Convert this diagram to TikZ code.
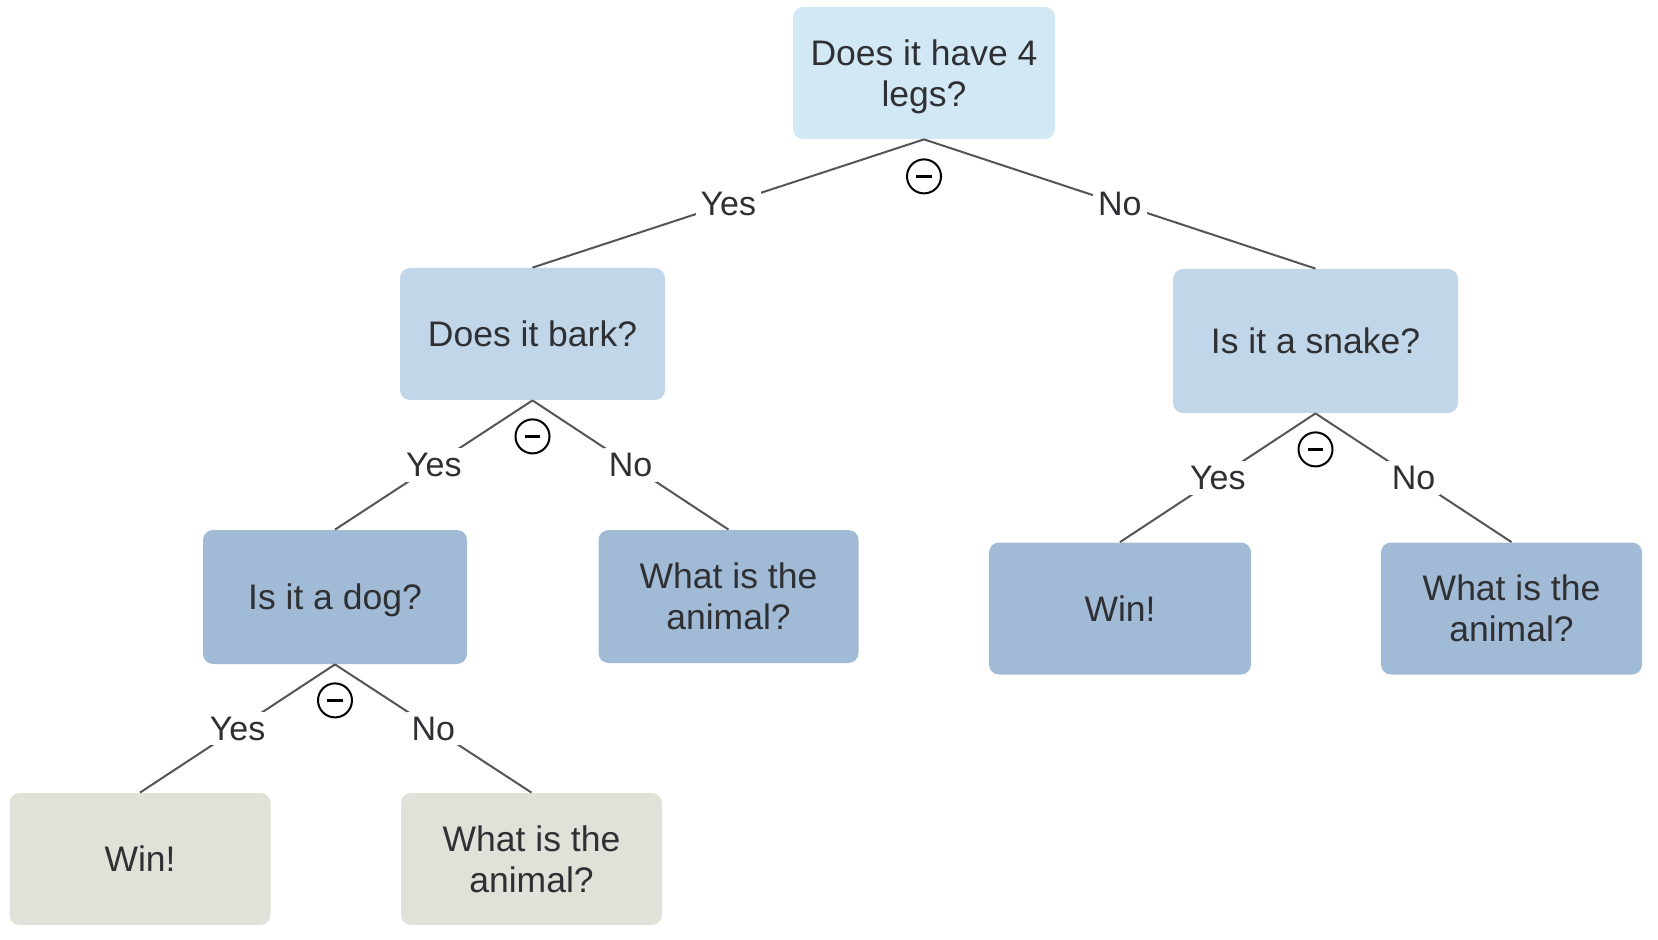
\documentclass[tikz,border=0pt]{standalone}
\usepackage{fontspec}
\setmainfont{Liberation Sans}
\usetikzlibrary{calc}
\definecolor{c0}{HTML}{D3E8F5}
\definecolor{c1}{HTML}{C2D6E9}
\definecolor{c2}{HTML}{A1BAD5}
\definecolor{c3}{HTML}{E0E2D9}
\definecolor{txt}{HTML}{2E3033}
\definecolor{ln}{HTML}{555555}
\newcommand{\nodepth}[1]{\raisebox{0pt}[\height][0pt]{#1}}
\tikzset{
  box/.style={rectangle, rounded corners=5pt, draw=none, align=center,
    text=txt, font=\fontsize{17.75}{20.5}\selectfont, inner sep=0pt,
    minimum width=131pt, minimum height=66pt},
  conn/.style={draw=ln, line width=1pt},
  lbl/.style={fill=white, text=txt, font=\fontsize{17}{20}\selectfont, inner sep=2.5pt},
  minus/.style={circle, draw=black, line width=1pt, fill=white, minimum size=17pt, inner sep=0pt,
    path picture={\draw[line width=1.2pt] ([xshift=-3.8pt]path picture bounding box.center) -- ([xshift=3.8pt]path picture bounding box.center);}}
}
\begin{document}
\begin{tikzpicture}[x=0.5pt,y=-0.5pt]
\useasboundingbox (0,0) rectangle (1658,940);
\node[box, fill=c0, minimum width=131pt, minimum height=66pt] (root) at (924,73) {Does it have 4\\\nodepth{legs?}};
\node[box, fill=c1, minimum width=132.5pt, minimum height=66pt] (bark) at (532.5,334) {Does it bark?};
\node[box, fill=c1, minimum width=142.5pt, minimum height=72pt] (snake) at (1315.5,341) {Is it a snake?};
\node[box, fill=c2, minimum width=132pt, minimum height=67pt] (dog) at (335,597) {\nodepth{Is it a dog?}};
\node[box, fill=c2, minimum width=130pt, minimum height=66.5pt] (what1) at (728.5,596.5) {What is the\\animal?};
\node[box, fill=c2, minimum width=131pt, minimum height=66pt] (win2) at (1120,608.5) {Win!};
\node[box, fill=c2, minimum width=130.5pt, minimum height=66pt] (what2) at (1511.5,608.5) {What is the\\animal?};
\node[box, fill=c3, minimum width=130.5pt, minimum height=66pt] (win1) at (140,859) {Win!};
\node[box, fill=c3, minimum width=130.5pt, minimum height=66pt] (what3) at (531.5,859) {What is the\\animal?};

\draw[conn] (root.south) -- node[lbl]{Yes} (bark.north);
\draw[conn] (root.south) -- node[lbl]{No} (snake.north);
\draw[conn] (bark.south) -- node[lbl]{Yes} (dog.north);
\draw[conn] (bark.south) -- node[lbl]{No} (what1.north);
\draw[conn] (snake.south) -- node[lbl]{Yes} (win2.north);
\draw[conn] (snake.south) -- node[lbl]{No} (what2.north);
\draw[conn] (dog.south) -- node[lbl]{Yes} (win1.north);
\draw[conn] (dog.south) -- node[lbl]{No} (what3.north);

\node[minus] (m0) at ($(root.south)+(0,37)$) {};
\node[minus] (m1) at ($(bark.south)+(0,36)$) {};
\node[minus] (m2) at ($(snake.south)+(0,36)$) {};
\node[minus] (m3) at ($(dog.south)+(0,36)$) {};
\end{tikzpicture}
\end{document}
